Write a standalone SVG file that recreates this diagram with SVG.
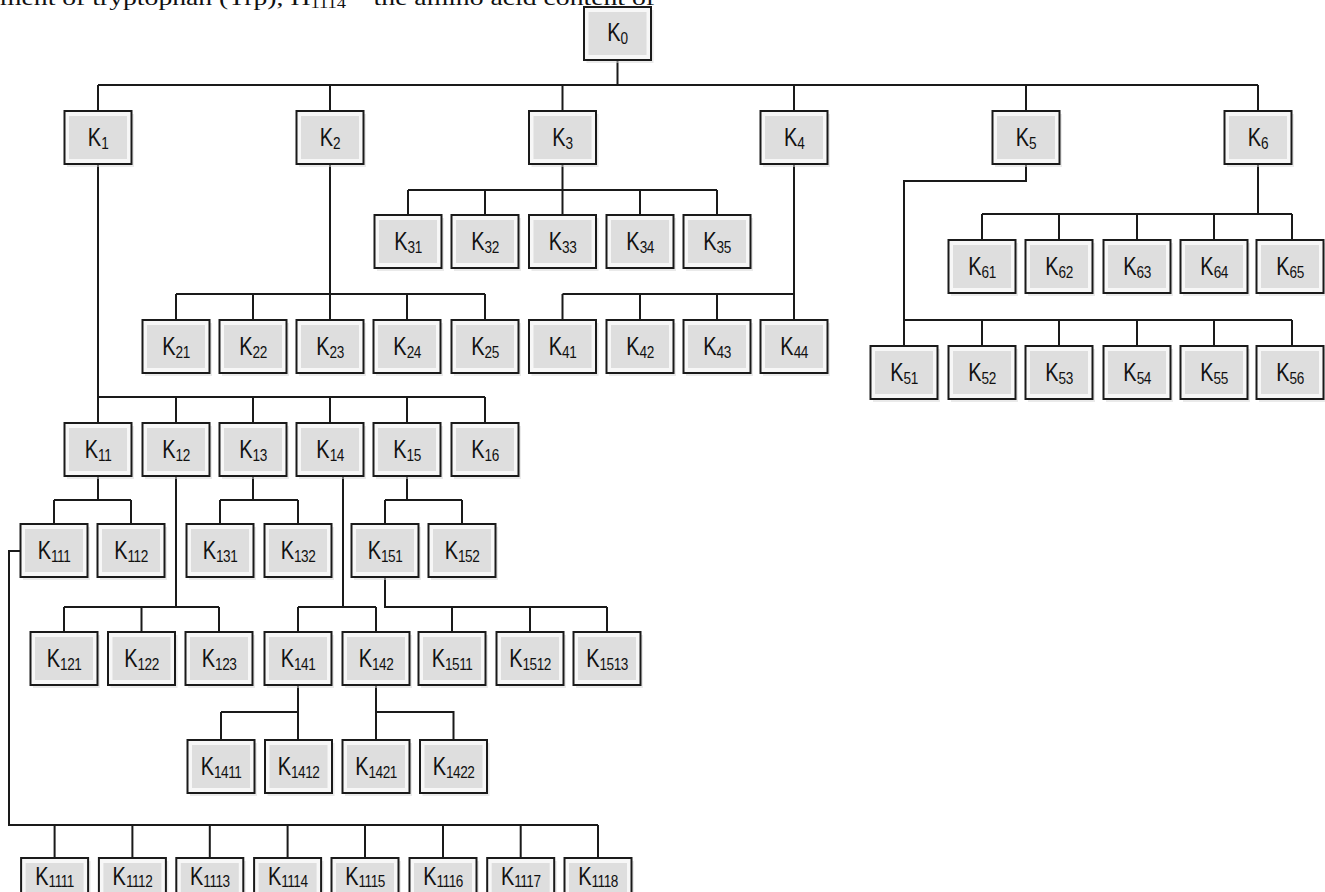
<svg xmlns="http://www.w3.org/2000/svg" width="1325" height="892" viewBox="0 0 1325 892">
<defs>
<style>
.sh{fill:#d6d6d6;opacity:0.5}
.ob{fill:#f7f7f7;stroke:#1a1a1a;stroke-width:2}
.ib{fill:#dedede}
.lb{font-family:"Liberation Sans",Arial,sans-serif;font-size:25px;fill:#111;text-anchor:middle;transform-box:fill-box;transform-origin:center;transform:scaleX(0.8)}
.sb{font-size:17px;letter-spacing:-0.6px}
.cn{fill:none;stroke:#1a1a1a;stroke-width:2}
.cap{font-family:"Liberation Serif","Times New Roman",serif;font-size:21px;fill:#111}
</style>
<g id="box">
<rect class="sh" x="-31" y="3" width="67" height="53"/>
<rect class="ob" x="-33.5" y="0" width="67" height="53"/>
<rect class="ib" x="-29" y="5" width="58" height="43"/>
</g>
</defs>
<rect width="1325" height="892" fill="#fff"/>
<text class="cap" x="0" y="5" textLength="655" lengthAdjust="spacingAndGlyphs">ment of tryptophan (Trp), H<tspan font-size="14" dy="3">1114</tspan><tspan dy="-3"> – the amino acid content of</tspan></text>
<g id="connectors" class="cn">
<path d="M617.5 58V85M98 85H1258M98 85V111M330 85V111M562.5 85V111M794 85V111M1026 85V111M1258 85V111"/>
<path d="M98 164V423M98 397H485M176 397V423M253 397V423M330 397V423M407 397V423M485 397V423"/>
<path d="M330 164V320M176 294H485M176 294V320M253 294V320M407 294V320M485 294V320"/>
<path d="M562.5 164V215M408 190H717M408 190V215M485 190V215M640 190V215M717 190V215"/>
<path d="M794 164V320M562.5 294H794M562.5 294V320M640 294V320M717 294V320"/>
<path d="M1026 164V181H904V346M904 320H1292M982 320V346M1059 320V346M1137 320V346M1214 320V346M1292 320V346"/>
<path d="M1258 164V214M982 214H1292M982 214V240M1059 214V240M1137 214V240M1214 214V240M1292 214V240"/>
<path d="M98 476V500M54 500H131M54 500V524M131 500V524"/>
<path d="M176 476V607M64 607H219M64 607V632M141.5 607V632M219 607V632"/>
<path d="M253 476V500M220 500H298M220 500V524M298 500V524"/>
<path d="M343 476V607M298 607H376M298 607V632M376 607V632"/>
<path d="M407 476V500M385 500H462M385 500V524M462 500V524"/>
<path d="M20.5 551H9V825H598M54.6 825V858M132.4 825V858M209.8 825V858M287.6 825V858M365 825V858M443 825V858M520.7 825V858M598 825V858"/>
<path d="M385 577V607H607M452 607V632M530 607V632M607 607V632"/>
<path d="M298 685V740M221 712H298M221 712V740"/>
<path d="M376 685V740M376 712H453.5V740"/>
</g>
<g id="K0"><use href="#box" transform="translate(617.5,7)"/><text class="lb" x="617.5" y="41">K<tspan class="sb" dy="3">0</tspan></text></g>
<g id="K1"><use href="#box" transform="translate(98,111)"/><text class="lb" x="98" y="146">K<tspan class="sb" dy="3">1</tspan></text></g>
<g id="K2"><use href="#box" transform="translate(330,111)"/><text class="lb" x="330" y="146">K<tspan class="sb" dy="3">2</tspan></text></g>
<g id="K3"><use href="#box" transform="translate(562.5,111)"/><text class="lb" x="562.5" y="146">K<tspan class="sb" dy="3">3</tspan></text></g>
<g id="K4"><use href="#box" transform="translate(794,111)"/><text class="lb" x="794" y="146">K<tspan class="sb" dy="3">4</tspan></text></g>
<g id="K5"><use href="#box" transform="translate(1026,111)"/><text class="lb" x="1026" y="146">K<tspan class="sb" dy="3">5</tspan></text></g>
<g id="K6"><use href="#box" transform="translate(1258,111)"/><text class="lb" x="1258" y="146">K<tspan class="sb" dy="3">6</tspan></text></g>
<g id="K31"><use href="#box" transform="translate(408,215)"/><text class="lb" x="408" y="250">K<tspan class="sb" dy="3">31</tspan></text></g>
<g id="K32"><use href="#box" transform="translate(485,215)"/><text class="lb" x="485" y="250">K<tspan class="sb" dy="3">32</tspan></text></g>
<g id="K33"><use href="#box" transform="translate(562.5,215)"/><text class="lb" x="562.5" y="250">K<tspan class="sb" dy="3">33</tspan></text></g>
<g id="K34"><use href="#box" transform="translate(640,215)"/><text class="lb" x="640" y="250">K<tspan class="sb" dy="3">34</tspan></text></g>
<g id="K35"><use href="#box" transform="translate(717,215)"/><text class="lb" x="717" y="250">K<tspan class="sb" dy="3">35</tspan></text></g>
<g id="K61"><use href="#box" transform="translate(982,240)"/><text class="lb" x="982" y="275">K<tspan class="sb" dy="3">61</tspan></text></g>
<g id="K62"><use href="#box" transform="translate(1059,240)"/><text class="lb" x="1059" y="275">K<tspan class="sb" dy="3">62</tspan></text></g>
<g id="K63"><use href="#box" transform="translate(1137,240)"/><text class="lb" x="1137" y="275">K<tspan class="sb" dy="3">63</tspan></text></g>
<g id="K64"><use href="#box" transform="translate(1214,240)"/><text class="lb" x="1214" y="275">K<tspan class="sb" dy="3">64</tspan></text></g>
<g id="K65"><use href="#box" transform="translate(1290,240)"/><text class="lb" x="1290" y="275">K<tspan class="sb" dy="3">65</tspan></text></g>
<g id="K21"><use href="#box" transform="translate(176,320)"/><text class="lb" x="176" y="355">K<tspan class="sb" dy="3">21</tspan></text></g>
<g id="K22"><use href="#box" transform="translate(253,320)"/><text class="lb" x="253" y="355">K<tspan class="sb" dy="3">22</tspan></text></g>
<g id="K23"><use href="#box" transform="translate(330,320)"/><text class="lb" x="330" y="355">K<tspan class="sb" dy="3">23</tspan></text></g>
<g id="K24"><use href="#box" transform="translate(407,320)"/><text class="lb" x="407" y="355">K<tspan class="sb" dy="3">24</tspan></text></g>
<g id="K25"><use href="#box" transform="translate(485,320)"/><text class="lb" x="485" y="355">K<tspan class="sb" dy="3">25</tspan></text></g>
<g id="K41"><use href="#box" transform="translate(562.5,320)"/><text class="lb" x="562.5" y="355">K<tspan class="sb" dy="3">41</tspan></text></g>
<g id="K42"><use href="#box" transform="translate(640,320)"/><text class="lb" x="640" y="355">K<tspan class="sb" dy="3">42</tspan></text></g>
<g id="K43"><use href="#box" transform="translate(717,320)"/><text class="lb" x="717" y="355">K<tspan class="sb" dy="3">43</tspan></text></g>
<g id="K44"><use href="#box" transform="translate(794,320)"/><text class="lb" x="794" y="355">K<tspan class="sb" dy="3">44</tspan></text></g>
<g id="K51"><use href="#box" transform="translate(904,346)"/><text class="lb" x="904" y="381">K<tspan class="sb" dy="3">51</tspan></text></g>
<g id="K52"><use href="#box" transform="translate(982,346)"/><text class="lb" x="982" y="381">K<tspan class="sb" dy="3">52</tspan></text></g>
<g id="K53"><use href="#box" transform="translate(1059,346)"/><text class="lb" x="1059" y="381">K<tspan class="sb" dy="3">53</tspan></text></g>
<g id="K54"><use href="#box" transform="translate(1137,346)"/><text class="lb" x="1137" y="381">K<tspan class="sb" dy="3">54</tspan></text></g>
<g id="K55"><use href="#box" transform="translate(1214,346)"/><text class="lb" x="1214" y="381">K<tspan class="sb" dy="3">55</tspan></text></g>
<g id="K56"><use href="#box" transform="translate(1290,346)"/><text class="lb" x="1290" y="381">K<tspan class="sb" dy="3">56</tspan></text></g>
<g id="K11"><use href="#box" transform="translate(98,423)"/><text class="lb" x="98" y="458">K<tspan class="sb" dy="3">11</tspan></text></g>
<g id="K12"><use href="#box" transform="translate(176,423)"/><text class="lb" x="176" y="458">K<tspan class="sb" dy="3">12</tspan></text></g>
<g id="K13"><use href="#box" transform="translate(253,423)"/><text class="lb" x="253" y="458">K<tspan class="sb" dy="3">13</tspan></text></g>
<g id="K14"><use href="#box" transform="translate(330,423)"/><text class="lb" x="330" y="458">K<tspan class="sb" dy="3">14</tspan></text></g>
<g id="K15"><use href="#box" transform="translate(407,423)"/><text class="lb" x="407" y="458">K<tspan class="sb" dy="3">15</tspan></text></g>
<g id="K16"><use href="#box" transform="translate(485,423)"/><text class="lb" x="485" y="458">K<tspan class="sb" dy="3">16</tspan></text></g>
<g id="K111"><use href="#box" transform="translate(54,524)"/><text class="lb" x="54" y="559">K<tspan class="sb" dy="3">111</tspan></text></g>
<g id="K112"><use href="#box" transform="translate(131,524)"/><text class="lb" x="131" y="559">K<tspan class="sb" dy="3">112</tspan></text></g>
<g id="K131"><use href="#box" transform="translate(220,524)"/><text class="lb" x="220" y="559">K<tspan class="sb" dy="3">131</tspan></text></g>
<g id="K132"><use href="#box" transform="translate(298,524)"/><text class="lb" x="298" y="559">K<tspan class="sb" dy="3">132</tspan></text></g>
<g id="K151"><use href="#box" transform="translate(385,524)"/><text class="lb" x="385" y="559">K<tspan class="sb" dy="3">151</tspan></text></g>
<g id="K152"><use href="#box" transform="translate(462,524)"/><text class="lb" x="462" y="559">K<tspan class="sb" dy="3">152</tspan></text></g>
<g id="K121"><use href="#box" transform="translate(64,632)"/><text class="lb" x="64" y="667">K<tspan class="sb" dy="3">121</tspan></text></g>
<g id="K122"><use href="#box" transform="translate(141.5,632)"/><text class="lb" x="141.5" y="667">K<tspan class="sb" dy="3">122</tspan></text></g>
<g id="K123"><use href="#box" transform="translate(219,632)"/><text class="lb" x="219" y="667">K<tspan class="sb" dy="3">123</tspan></text></g>
<g id="K141"><use href="#box" transform="translate(298,632)"/><text class="lb" x="298" y="667">K<tspan class="sb" dy="3">141</tspan></text></g>
<g id="K142"><use href="#box" transform="translate(376,632)"/><text class="lb" x="376" y="667">K<tspan class="sb" dy="3">142</tspan></text></g>
<g id="K1511"><use href="#box" transform="translate(452,632)"/><text class="lb" x="452" y="667">K<tspan class="sb" dy="3">1511</tspan></text></g>
<g id="K1512"><use href="#box" transform="translate(530,632)"/><text class="lb" x="530" y="667">K<tspan class="sb" dy="3">1512</tspan></text></g>
<g id="K1513"><use href="#box" transform="translate(607,632)"/><text class="lb" x="607" y="667">K<tspan class="sb" dy="3">1513</tspan></text></g>
<g id="K1411"><use href="#box" transform="translate(221,740)"/><text class="lb" x="221" y="775">K<tspan class="sb" dy="3">1411</tspan></text></g>
<g id="K1412"><use href="#box" transform="translate(298.5,740)"/><text class="lb" x="298.5" y="775">K<tspan class="sb" dy="3">1412</tspan></text></g>
<g id="K1421"><use href="#box" transform="translate(376,740)"/><text class="lb" x="376" y="775">K<tspan class="sb" dy="3">1421</tspan></text></g>
<g id="K1422"><use href="#box" transform="translate(453.5,740)"/><text class="lb" x="453.5" y="775">K<tspan class="sb" dy="3">1422</tspan></text></g>
<g id="K1111"><use href="#box" transform="translate(54.6,858)"/><text class="lb" x="54.6" y="885">K<tspan class="sb" dy="2">1111</tspan></text></g>
<g id="K1112"><use href="#box" transform="translate(132.4,858)"/><text class="lb" x="132.4" y="885">K<tspan class="sb" dy="2">1112</tspan></text></g>
<g id="K1113"><use href="#box" transform="translate(209.8,858)"/><text class="lb" x="209.8" y="885">K<tspan class="sb" dy="2">1113</tspan></text></g>
<g id="K1114"><use href="#box" transform="translate(287.6,858)"/><text class="lb" x="287.6" y="885">K<tspan class="sb" dy="2">1114</tspan></text></g>
<g id="K1115"><use href="#box" transform="translate(365,858)"/><text class="lb" x="365" y="885">K<tspan class="sb" dy="2">1115</tspan></text></g>
<g id="K1116"><use href="#box" transform="translate(443,858)"/><text class="lb" x="443" y="885">K<tspan class="sb" dy="2">1116</tspan></text></g>
<g id="K1117"><use href="#box" transform="translate(520.7,858)"/><text class="lb" x="520.7" y="885">K<tspan class="sb" dy="2">1117</tspan></text></g>
<g id="K1118"><use href="#box" transform="translate(598,858)"/><text class="lb" x="598" y="885">K<tspan class="sb" dy="2">1118</tspan></text></g>
</svg>
